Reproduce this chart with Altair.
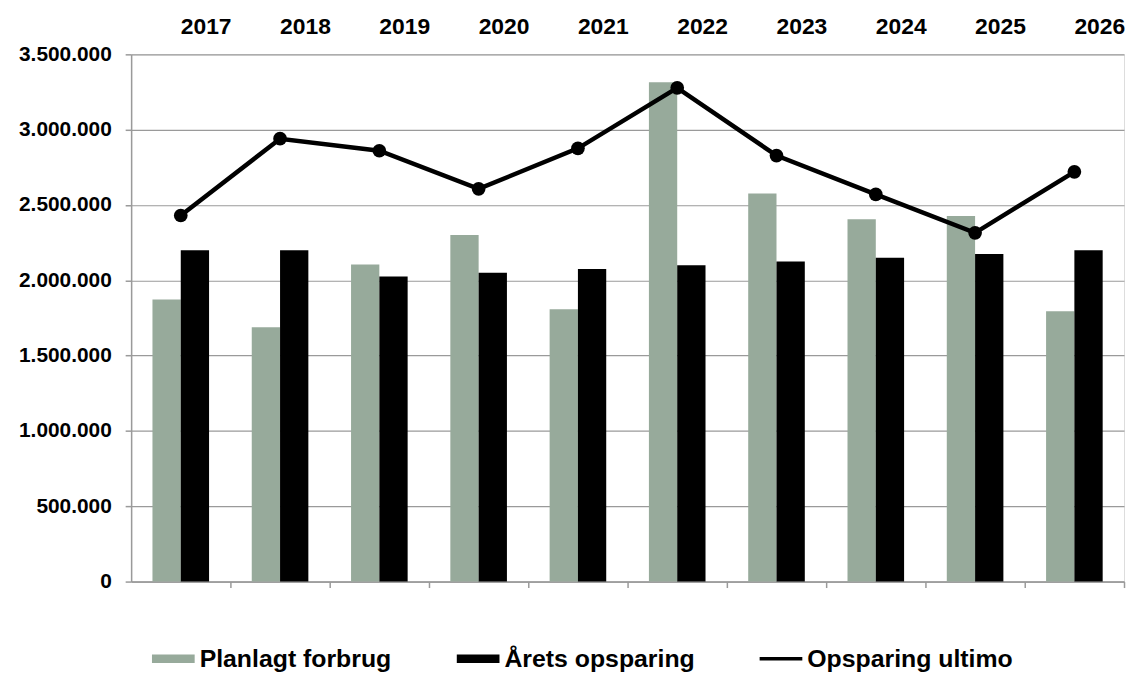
import altair as alt
import pandas as pd

years = ["2017", "2018", "2019", "2020", "2021", "2022", "2023", "2024", "2025", "2026"]
planlagt = [1872000, 1689000, 2105000, 2300000, 1808000, 3315000, 2577000, 2406000, 2427000, 1795000]
aarets = [2200000, 2200000, 2025000, 2050000, 2075000, 2100000, 2125000, 2150000, 2175000, 2200000]
ultimo = [2430000, 2940000, 2860000, 2607000, 2876000, 3278000, 2828000, 2570000, 2315000, 2720000]
series = ["Planlagt forbrug", "Årets opsparing", "Opsparing ultimo"]
y_ticks = [0, 500000, 1000000, 1500000, 2000000, 2500000, 3000000, 3500000]

colors = ["#97AA9B", "#000000", "#000000"]
shapes = ["M-1,-0.2H1V0.2H-1Z", "M-1,-0.2H1V0.2H-1Z", "M-1,-0.085H1V0.085H-1Z"]
GREY = "#9a9a9a"
FONT = "Liberation Sans"

df_bars = pd.DataFrame({
    "year": years * 2,
    "serie": [series[0]] * len(years) + [series[1]] * len(years),
    "value": planlagt + aarets,
})
df_line = pd.DataFrame({"year": years, "serie": [series[2]] * len(years), "value": ultimo})
df_leg = pd.DataFrame({"serie": series})

xscale = alt.Scale(domain=years, paddingInner=0.43, paddingOuter=0.215)
yscale = alt.Scale(domain=[0, 3500000], nice=False)
cscale = alt.Scale(domain=series, range=colors)
sscale = alt.Scale(domain=series, range=shapes)

yaxis = alt.Axis(
    title=None, values=y_ticks,
    labelExpr="replace(replace(format(datum.value, ','), ',', '.'), ',', '.')",
    labelFontSize=21, labelFont=FONT, labelFontWeight="bold", labelColor="black",
    tickSize=6, tickColor=GREY, domainColor=GREY, gridColor=GREY, gridWidth=1.2,
    domainWidth=1.5, tickWidth=1.5, labelPadding=14, grid=True)

legend_kw = dict(
    title=None, orient="none", legendX=21, legendY=587, direction="horizontal",
    labelFontSize=25, labelFont=FONT, labelFontWeight="bold", labelColor="black",
    symbolSize=1849, labelOffset=5, columnPadding=65, labelLimit=500,
    symbolStrokeWidth=0, padding=0, symbolOpacity=1,
)

bars = alt.Chart(df_bars).mark_bar().encode(
    x=alt.X("year:N", scale=xscale, axis=alt.Axis(
        orient="bottom", labels=False, title=None, domainColor=GREY, tickColor=GREY,
        tickSize=6, tickOffset=50, grid=False, domainWidth=1.5, tickWidth=1.5)),
    xOffset=alt.XOffset("serie:N", scale=alt.Scale(domain=series[:2])),
    y=alt.Y("value:Q", scale=yscale, axis=yaxis),
    color=alt.Color("serie:N", scale=cscale, legend=alt.Legend(**legend_kw)),
)

line = alt.Chart(df_line).mark_line(
    color="black", strokeWidth=4.5,
    point=alt.OverlayMarkDef(filled=True, size=190, color="black", opacity=1),
).encode(
    x=alt.X("year:N", scale=xscale, axis=alt.Axis(
        orient="top", title=None, labelAlign="left", labelAngle=0, ticks=False, domain=False,
        labelFontSize=23, labelFont=FONT, labelFontWeight="bold", labelColor="black",
        labelPadding=16, grid=False)),
    y=alt.Y("value:Q", scale=yscale, axis=yaxis),
)

dummy = alt.Chart(df_leg).mark_point(filled=True, opacity=1, size=1849).encode(
    color=alt.Color("serie:N", scale=cscale, legend=alt.Legend(**legend_kw)),
    shape=alt.Shape("serie:N", scale=sscale, legend=alt.Legend(**legend_kw)),
).transform_filter("false")

chart = alt.layer(bars, line, dummy).resolve_axis(x="independent").properties(
    width=1000, height=531,
    autosize=alt.AutoSizeParams(type="none"),
    padding={"left": 124, "top": 44.3, "right": 3, "bottom": 90.7},
).configure_view(stroke=None).configure(background="white")

chart.save("out.html", embed_options={"renderer": "svg", "actions": False})
